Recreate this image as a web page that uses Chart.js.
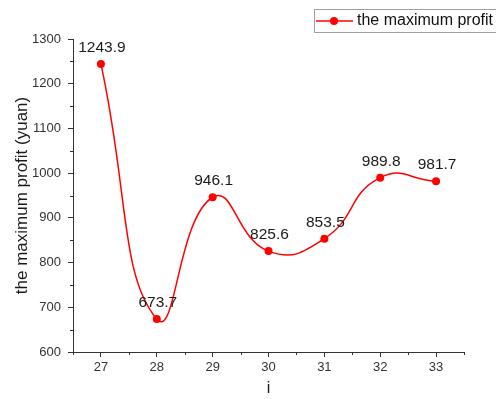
<!DOCTYPE html>
<html>
<head>
<meta charset="utf-8">
<script src="https://cdn.jsdelivr.net/npm/chart.js@4/dist/chart.umd.min.js"></script>
<style>
  html, body { margin: 0; padding: 0; background: #fff; }
  #wrap { width: 496px; height: 399px; }
</style>
</head>
<body>
<div id="wrap"><canvas id="c" width="496" height="399"></canvas></div>
<script>
const categories = [27, 28, 29, 30, 31, 32, 33];
const profitValues = [1243.9, 673.7, 946.1, 825.6, 853.5, 989.8, 981.7];
const yTickValues = [600, 700, 800, 900, 1000, 1100, 1200, 1300];
const seriesName = 'the maximum profit';
const xTitle = 'i';
const yTitle = 'the maximum profit (yuan)';

const FONT = '"Liberation Sans", Arial, sans-serif';
const AXIS_COLOR = '#333333';
const RED = '#ff0000';

const minorTicks = {
  id: 'minorTicks',
  afterDraw(chart) {
    const ctx = chart.ctx;
    const xs = chart.scales.x, ys = chart.scales.y;
    ctx.save();
    ctx.strokeStyle = AXIS_COLOR;
    ctx.lineWidth = 1;
    ctx.beginPath();
    const xMin = [categories[0] - 0.5];
    for (let i = 0; i < categories.length; i++) xMin.push(categories[i] + 0.5);
    xMin.forEach(v => {
      const px = Math.round(xs.getPixelForValue(v)) + 0.5;
      ctx.moveTo(px, xs.top);
      ctx.lineTo(px, xs.top + 3);
    });
    for (let i = 0; i < yTickValues.length - 1; i++) {
      const v = (yTickValues[i] + yTickValues[i + 1]) / 2;
      const py = Math.round(ys.getPixelForValue(v)) + 0.5;
      ctx.moveTo(ys.right, py);
      ctx.lineTo(ys.right - 3, py);
    }
    ctx.stroke();
    ctx.restore();
  }
};

const dataLabels = {
  id: 'dataLabels',
  afterDatasetsDraw(chart) {
    const ctx = chart.ctx;
    const meta = chart.getDatasetMeta(0);
    ctx.save();
    ctx.font = '15.5px ' + FONT;
    ctx.fillStyle = '#1a1a1a';
    ctx.textAlign = 'center';
    ctx.textBaseline = 'alphabetic';
    meta.data.forEach((pt, i) => {
      ctx.fillText(profitValues[i].toFixed(1), pt.x + 1, pt.y - 12);
    });
    ctx.restore();
  }
};

const legendBox = {
  id: 'legendBox',
  afterDraw(chart) {
    const ctx = chart.ctx;
    ctx.save();
    ctx.strokeStyle = '#a0a0a0';
    ctx.lineWidth = 1;
    ctx.strokeRect(314.5, 9.5, 200, 23);
    ctx.strokeStyle = RED;
    ctx.lineWidth = 1.5;
    ctx.beginPath();
    ctx.moveTo(316, 21);
    ctx.lineTo(353, 21);
    ctx.stroke();
    ctx.fillStyle = RED;
    ctx.beginPath();
    ctx.arc(334, 21, 4, 0, Math.PI * 2);
    ctx.fill();
    ctx.fillStyle = '#111111';
    ctx.font = '16px ' + FONT;
    ctx.textAlign = 'left';
    ctx.textBaseline = 'middle';
    ctx.fillText(seriesName, 357, 21);
    ctx.restore();
  }
};

new Chart(document.getElementById('c'), {
  type: 'line',
  data: {
    datasets: [{
      label: seriesName,
      data: categories.map((c, i) => ({ x: c, y: profitValues[i] })),
      borderColor: RED,
      backgroundColor: RED,
      borderWidth: 1.5,
      pointRadius: 4,
      pointHoverRadius: 4,
      pointBackgroundColor: RED,
      pointBorderColor: RED,
      pointBorderWidth: 0,
      tension: 0.5,
      fill: false
    }]
  },
  options: {
    responsive: false,
    animation: false,
    events: [],
    layout: { padding: { left: 0, top: 39, right: 32, bottom: 0 } },
    plugins: { legend: { display: false }, tooltip: { enabled: false } },
    scales: {
      x: {
        type: 'linear',
        min: categories[0] - 0.5,
        max: categories[categories.length - 1] + 0.5,
        afterBuildTicks(scale) { scale.ticks = categories.map(v => ({ value: v })); },
        afterFit(scale) { scale.height = 47; },
        grid: { drawOnChartArea: false, drawTicks: true, tickLength: 5, color: AXIS_COLOR, tickColor: AXIS_COLOR },
        border: { display: true, color: AXIS_COLOR, width: 1 },
        ticks: { color: AXIS_COLOR, font: { family: FONT, size: 13 }, padding: 3, maxRotation: 0, autoSkip: false,
                 callback: v => String(v) },
        title: { display: true, text: xTitle, color: '#1a1a1a', font: { family: FONT, size: 16 }, padding: { top: 0, bottom: 1 } }
      },
      y: {
        type: 'linear',
        min: yTickValues[0],
        max: yTickValues[yTickValues.length - 1],
        afterBuildTicks(scale) { scale.ticks = yTickValues.map(v => ({ value: v })); },
        afterFit(scale) { scale.width = 73; },
        grid: { drawOnChartArea: false, drawTicks: true, tickLength: 5, color: AXIS_COLOR, tickColor: AXIS_COLOR },
        border: { display: true, color: AXIS_COLOR, width: 1 },
        ticks: { color: AXIS_COLOR, font: { family: FONT, size: 13 }, padding: 7, autoSkip: false,
                 callback: v => String(v) },
        title: { display: true, text: yTitle, color: '#1a1a1a', font: { family: FONT, size: 17 }, padding: { top: 12, bottom: 0 } }
      }
    }
  },
  plugins: [minorTicks, dataLabels, legendBox]
});
</script>
</body>
</html>
